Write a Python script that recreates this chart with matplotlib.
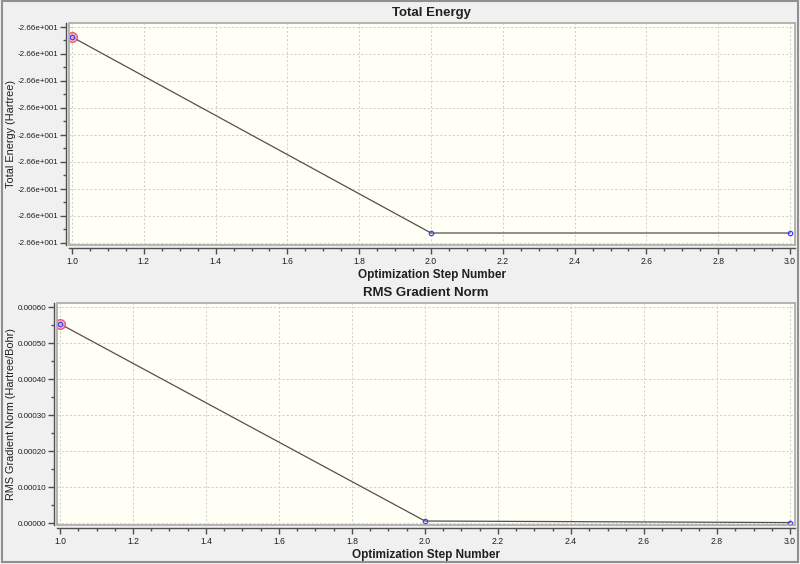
import matplotlib
matplotlib.use("Agg")
import matplotlib.pyplot as plt
from matplotlib.patches import Rectangle
from matplotlib.ticker import MultipleLocator, FuncFormatter

# ---- data ----
steps = [1.0, 2.0, 3.0]
energy = [-26.60237, -26.60963, -26.60963]
rms_grad = [0.000553, 0.0000055, 0.0000012]

energy_ticks = [-26.602, -26.603, -26.604, -26.605, -26.606, -26.607, -26.608, -26.609, -26.610]
rms_ticks = [0.0, 0.0001, 0.0002, 0.0003, 0.0004, 0.0005, 0.0006]
x_ticks = [1.0, 1.2, 1.4, 1.6, 1.8, 2.0, 2.2, 2.4, 2.6, 2.8, 3.0]

W, H = 800, 564
plt.rcParams['font.family'] = ['Liberation Sans', 'DejaVu Sans']
fig = plt.figure(figsize=(W / 100, H / 100), dpi=100)
fig.patch.set_facecolor('#f0f0f0')

# outer frame
fig.add_artist(Rectangle((2 / W, 2 / H), 796 / W, (H - 3) / H, transform=fig.transFigure,
                         fill=False, edgecolor='#909090', linewidth=1.5))


def make_axes(left, right, top, bottom):
    return fig.add_axes([left / W, (H - bottom) / H, (right - left) / W, (bottom - top) / H])


def style(ax, title, ylabel, yfmt):
    ax.set_facecolor('#fffff5')
    for s in ['top', 'right']:
        ax.spines[s].set_visible(False)
    ax.spines['left'].set_position(('outward', 2.2))
    ax.spines['bottom'].set_position(('outward', 2.5))
    for s in ['left', 'bottom']:
        ax.spines[s].set_color('#505050')
        ax.spines[s].set_linewidth(1.0)
    ax.add_patch(Rectangle((0, 0), 1, 1, transform=ax.transAxes, fill=False,
                           edgecolor='#a8a8a8', linewidth=1.2, clip_on=False, zorder=5))
    ax.grid(True, which='major', color='#d0d0d0', linestyle=(0, (2, 2)), linewidth=0.75)
    ax.set_axisbelow(True)
    ax.set_xticks(x_ticks)
    ax.xaxis.set_minor_locator(MultipleLocator(0.05))
    ax.xaxis.set_major_formatter(FuncFormatter(lambda v, p: f"{v:.1f}"))
    ax.yaxis.set_major_formatter(FuncFormatter(yfmt))
    ax.tick_params(which='major', length=4, width=1, color='#505050', labelsize=6.2,
                   labelcolor='#202020', pad=2)
    ax.tick_params(axis='y', which='major', labelsize=5.8, pad=1.5)
    ax.tick_params(which='minor', length=2.5, width=1, color='#505050')
    ax.set_title(title, fontsize=9.5, fontweight='bold', pad=5, color='#202020')
    ax.set_xlabel('Optimization Step Number', fontsize=8.5, fontweight='bold',
                  labelpad=2, color='#202020')
    ax.set_ylabel(ylabel, fontsize=7.8, color='#202020')


def efmt(v, p):
    s = f"{v:.2e}"
    mant, exp = s.split('e')
    sign = exp[0]
    return f"{mant}e{sign}{int(exp[1:]):03d}"


# ---- top panel ----
ax1 = make_axes(69, 795, 23, 245)
ax1.plot(steps, energy, color='#505050', linewidth=0.9, zorder=3)
ax1.plot(steps, energy, linestyle='none', marker='o', markersize=3.2,
         markerfacecolor='none', markeredgecolor='#4040ff', markeredgewidth=0.9, zorder=4)
ax1.plot(steps[0], energy[0], marker='o', markersize=7, markerfacecolor='#ffb0b0',
         markeredgecolor='#e04060', markeredgewidth=1.0, alpha=0.8, zorder=3.5)
ax1.set_yticks(energy_ticks)
step_e = 0.001
ax1.yaxis.set_minor_locator(MultipleLocator(step_e / 2))
ax1.set_ylim(-26.610 - 2 / 27 * step_e, -26.602 + 4 / 27 * step_e)
ax1.set_xlim(1 - 3 / 359, 3 + 5 / 359)
style(ax1, 'Total Energy', 'Total Energy (Hartree)', efmt)
ax1.yaxis.set_label_coords((16 - 69) / 726, 0.5)

# ---- bottom panel ----
ax2 = make_axes(57, 795, 303, 525)
ax2.plot(steps, rms_grad, color='#505050', linewidth=0.9, zorder=3)
ax2.plot(steps, rms_grad, linestyle='none', marker='o', markersize=3.2,
         markerfacecolor='none', markeredgecolor='#4040ff', markeredgewidth=0.9, zorder=4)
ax2.plot(steps[0], rms_grad[0], marker='o', markersize=7, markerfacecolor='#ffb0b0',
         markeredgecolor='#e04060', markeredgewidth=1.0, alpha=0.8, zorder=3.5)
ax2.set_yticks(rms_ticks)
ax2.yaxis.set_minor_locator(MultipleLocator(0.00005))
ax2.set_ylim(-2 / 36 * 0.0001, 0.0006 + 4 / 36 * 0.0001)
ax2.set_xlim(1 - 3 / 365, 3 + 5 / 365)
style(ax2, 'RMS Gradient Norm', 'RMS Gradient Norm (Hartree/Bohr)', lambda v, p: f"{v:.5f}")
ax2.yaxis.set_label_coords((16 - 57) / 738, 0.5)

fig.savefig('out.png', dpi=100, facecolor=fig.get_facecolor())
